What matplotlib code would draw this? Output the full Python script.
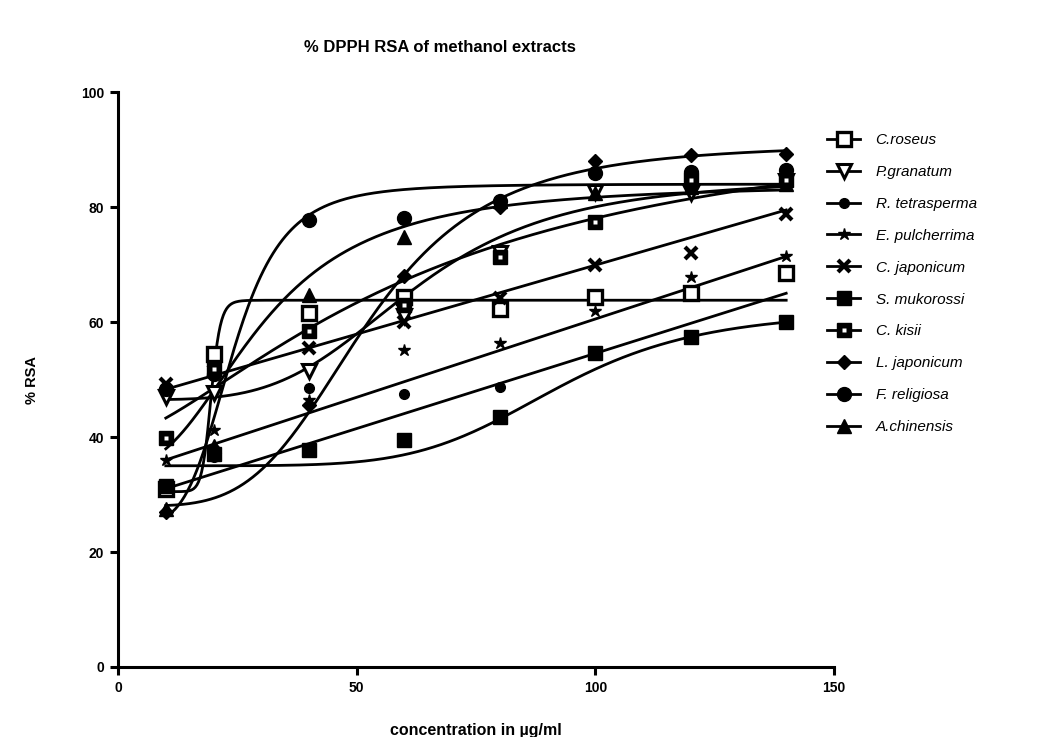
import numpy as np
import matplotlib
matplotlib.use("Agg")
import matplotlib.pyplot as plt
from matplotlib.lines import Line2D
from matplotlib.legend_handler import HandlerTuple

plt.rcParams['font.family'] = ['Liberation Sans', 'DejaVu Sans']

# concentration (ug/ml)
conc = [10, 20, 40, 60, 80, 100, 120, 140]

species = ["C.roseus", "P.granatum", "R. tetrasperma", "E. pulcherrima",
           "C. japonicum", "S. mukorossi", "C. kisii", "L. japonicum",
           "F. religiosa", "A.chinensis"]

# % RSA
c_roseus = [31.0, 54.5, 61.5, 64.3, 62.3, 64.4, 65.1, 68.5]
p_granatum = [47.0, 47.6, 51.5, 61.0, 72.0, 82.7, 82.4, 84.5]
r_tetrasperma = [31.4, 36.5, 48.5, 47.5, 48.7, 54.6, 57.4, 60.0]
e_pulcherrima = [36.0, 41.2, 46.5, 55.2, 56.3, 62.0, 67.9, 71.5]
c_japonicum = [49.2, 51.5, 55.5, 60.0, 64.2, 70.0, 72.0, 78.8]
s_mukorossi = [31.4, 37.0, 37.7, 39.5, 43.5, 54.6, 57.4, 60.0]
c_kisii = [39.9, 51.9, 58.5, 63.0, 71.4, 77.4, 84.7, 84.7]
l_japonicum = [27.0, 38.0, 45.5, 68.0, 80.0, 88.0, 89.0, 89.3]
f_religiosa = [48.3, 51.0, 77.7, 78.1, 81.0, 85.9, 86.1, 86.5]
a_chinensis = [27.5, 38.5, 64.7, 74.8, 81.0, 82.5, 83.5, 84.0]

rsa = [c_roseus, p_granatum, r_tetrasperma, e_pulcherrima, c_japonicum,
       s_mukorossi, c_kisii, l_japonicum, f_religiosa, a_chinensis]

# fitted curves as drawn: ("4pl", bottom, top, ec50, hill) or ("line", intercept, slope)
fits = [("4pl", 30.5, 63.8, 19.5, 20.0),
        ("4pl", 46.5, 85.0, 62.0, 4.0),
        ("line", 28.4, 0.2615),
        ("line", 33.3, 0.2723),
        ("line", 45.9, 0.24),
        ("4pl", 35.0, 62.0, 92.0, 6.0),
        ("4pl", 40.0, 98.0, 65.0, 1.5),
        ("4pl", 28.0, 91.0, 52.0, 4.0),
        ("4pl", 35.0, 84.0, 30.0, 2.5),
        ("4pl", 25.0, 84.0, 24.0, 4.5)]

styles = [dict(marker='s', mfc='white', ms=10, mew=2.4),
          dict(marker='v', mfc='white', ms=10, mew=2.2),
          dict(marker='o', mfc='black', ms=7, mew=1),
          dict(marker='*', mfc='black', ms=9, mew=1),
          dict(marker='x', mfc='black', ms=8, mew=3),
          dict(marker='s', mfc='black', ms=10, mew=1),
          dict(marker='s', mfc='black', ms=10, mew=1),
          dict(marker='D', mfc='black', ms=7, mew=1),
          dict(marker='o', mfc='black', ms=10, mew=1),
          dict(marker='^', mfc='black', ms=10, mew=1)]
# small white centre drawn on top of the C. kisii squares
inner = {"C. kisii": dict(marker='s', mfc='white', mec='none', ms=3.5)}


def fit_curve(fit, x):
    if fit[0] == "line":
        return fit[1] + fit[2] * x
    _, bottom, top, ec50, hill = fit
    return bottom + (top - bottom) / (1 + (ec50 / x) ** hill)


fig = plt.figure(figsize=(10.45, 7.37), dpi=100)
ax = fig.add_axes([0.113, 0.095, 0.685, 0.780])

xs = np.linspace(conc[0], conc[-1], 400)
handles = []
for name, y, fit, st in zip(species, rsa, fits, styles):
    ax.plot(xs, fit_curve(fit, xs), color='black', lw=2, zorder=2)
    ax.plot(conc, y, ls='none', color='black', mec='black', zorder=3, **st)
    h = Line2D([], [], color='black', lw=2, mec='black', **st)
    if name in inner:
        ax.plot(conc, y, ls='none', zorder=4, **inner[name])
        h = (h, Line2D([], [], ls='none', **inner[name]))
    handles.append(h)

ax.set_xlim(0, 150)
ax.set_ylim(0, 100)
ax.set_xticks([0, 50, 100, 150])
ax.set_yticks([0, 20, 40, 60, 80, 100])
for s in ['top', 'right']:
    ax.spines[s].set_visible(False)
for s in ['left', 'bottom']:
    ax.spines[s].set_linewidth(2.2)
ax.tick_params(width=2.2, length=6, labelsize=10, pad=4)
for lab in ax.get_xticklabels() + ax.get_yticklabels():
    lab.set_fontweight('bold')

ax.set_xlabel('concentration in µg/ml', fontsize=11.5, fontweight='bold', labelpad=20)
ax.set_ylabel('% RSA', fontsize=10.5, fontweight='bold', labelpad=30)
fig.text(0.421, 0.936, '% DPPH RSA of methanol extracts', ha='center', va='center',
         fontsize=12, fontweight='bold')

leg = ax.legend(handles, species, loc='upper left', bbox_to_anchor=(0.778, 0.838),
                bbox_transform=fig.transFigure, frameon=False, handlelength=2.2,
                labelspacing=1.17, handletextpad=1.0, prop=dict(size=11, style='italic'),
                handler_map={tuple: HandlerTuple(ndivide=1, pad=0)})

fig.savefig('out.png', dpi=100)
